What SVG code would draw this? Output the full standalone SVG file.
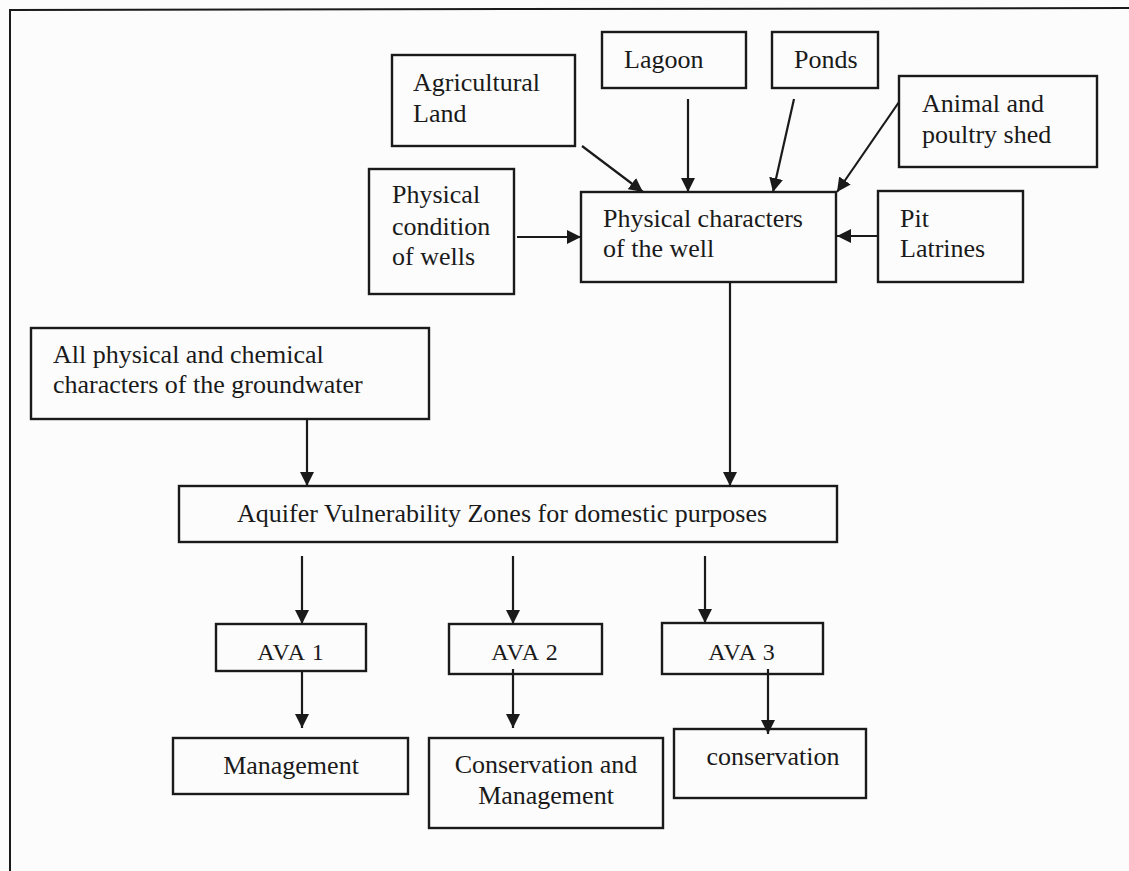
<svg xmlns="http://www.w3.org/2000/svg" width="1129" height="871" viewBox="0 0 1129 871">
  <style>
    .box { fill: none; stroke: #1a1a1a; stroke-width: 2.4; }
    .lbl { font-family: "Liberation Serif", "Times New Roman", serif; font-size: 26px; fill: #1a1a1a; }
    .mid { text-anchor: middle; }
    .ava { font-size: 24px; letter-spacing: 1px; }
    .conn { stroke: #1a1a1a; stroke-width: 2.2; fill: none; marker-end: url(#arrow); }
    .frame { stroke: #1a1a1a; stroke-width: 2; fill: none; }
  </style>
  <defs>
    <marker id="arrow" markerUnits="userSpaceOnUse" markerWidth="15" markerHeight="14" refX="14" refY="7" orient="auto">
      <path d="M0,0 L14,7 L0,14 z" fill="#1a1a1a"/>
    </marker>
  </defs>
  <rect x="0" y="0" width="1129" height="871" fill="#fcfcfc"/>

  <g id="frame">
    <path class="frame" d="M10,871 L10,10 L1129,8"/>
  </g>

  <g id="connectors">
    <line class="conn" x1="582" y1="146" x2="643" y2="192"/>
    <line class="conn" x1="688" y1="99" x2="688" y2="192"/>
    <line class="conn" x1="794" y1="99" x2="773" y2="192"/>
    <line class="conn" x1="899" y1="102" x2="837" y2="192"/>
    <line class="conn" x1="517" y1="237" x2="581" y2="237"/>
    <line class="conn" x1="878" y1="236" x2="837" y2="236"/>
    <line class="conn" x1="730" y1="282" x2="730" y2="486"/>
    <line class="conn" x1="307" y1="419" x2="307" y2="486"/>
    <line class="conn" x1="302" y1="556" x2="302" y2="624"/>
    <line class="conn" x1="513" y1="556" x2="513" y2="624"/>
    <line class="conn" x1="705" y1="556" x2="705" y2="623"/>
    <line class="conn" x1="302" y1="671" x2="302" y2="728"/>
    <line class="conn" x1="513" y1="669" x2="513" y2="728"/>
    <line class="conn" x1="768" y1="669" x2="768" y2="734"/>
  </g>

  <g id="agricultural-land">
    <rect class="box" x="392" y="55" width="183" height="91"/>
    <text class="lbl" x="413" y="91">Agricultural</text>
    <text class="lbl" x="413" y="122">Land</text>
  </g>
  <g id="lagoon">
    <rect class="box" x="602" y="32" width="144" height="56"/>
    <text class="lbl" x="624" y="68">Lagoon</text>
  </g>
  <g id="ponds">
    <rect class="box" x="772" y="32" width="106" height="56"/>
    <text class="lbl" x="794" y="68">Ponds</text>
  </g>
  <g id="animal-poultry-shed">
    <rect class="box" x="899" y="76" width="198" height="91"/>
    <text class="lbl" x="922" y="112">Animal and</text>
    <text class="lbl" x="922" y="143">poultry shed</text>
  </g>
  <g id="physical-condition">
    <rect class="box" x="369" y="169" width="145" height="125"/>
    <text class="lbl" x="392" y="203">Physical</text>
    <text class="lbl" x="392" y="235">condition</text>
    <text class="lbl" x="392" y="265">of wells</text>
  </g>
  <g id="physical-characters">
    <rect class="box" x="581" y="192" width="255" height="90"/>
    <text class="lbl" x="603" y="227">Physical characters</text>
    <text class="lbl" x="603" y="257">of the well</text>
  </g>
  <g id="pit-latrines">
    <rect class="box" x="878" y="191" width="145" height="91"/>
    <text class="lbl" x="900" y="227">Pit</text>
    <text class="lbl" x="900" y="257">Latrines</text>
  </g>
  <g id="all-characters">
    <rect class="box" x="31" y="328" width="398" height="91"/>
    <text class="lbl" x="53" y="363">All physical and chemical</text>
    <text class="lbl" x="53" y="393">characters of the groundwater</text>
  </g>
  <g id="aquifer-zones">
    <rect class="box" x="179" y="486" width="658" height="56"/>
    <text class="lbl" x="237" y="522">Aquifer Vulnerability Zones for domestic purposes</text>
  </g>
  <g id="ava1">
    <rect class="box" x="216" y="624" width="150" height="47"/>
    <text class="lbl mid ava" x="291" y="660">AVA 1</text>
  </g>
  <g id="ava2">
    <rect class="box" x="449" y="624" width="153" height="50"/>
    <text class="lbl mid ava" x="525" y="660">AVA 2</text>
  </g>
  <g id="ava3">
    <rect class="box" x="662" y="623" width="161" height="51"/>
    <text class="lbl mid ava" x="742" y="660">AVA 3</text>
  </g>
  <g id="management">
    <rect class="box" x="173" y="738" width="235" height="56"/>
    <text class="lbl mid" x="291" y="774">Management</text>
  </g>
  <g id="conservation-management">
    <rect class="box" x="429" y="738" width="234" height="90"/>
    <text class="lbl mid" x="546" y="773">Conservation and</text>
    <text class="lbl mid" x="546" y="804">Management</text>
  </g>
  <g id="conservation">
    <rect class="box" x="674" y="729" width="192" height="69"/>
    <text class="lbl mid" x="773" y="765">conservation</text>
  </g>
</svg>
